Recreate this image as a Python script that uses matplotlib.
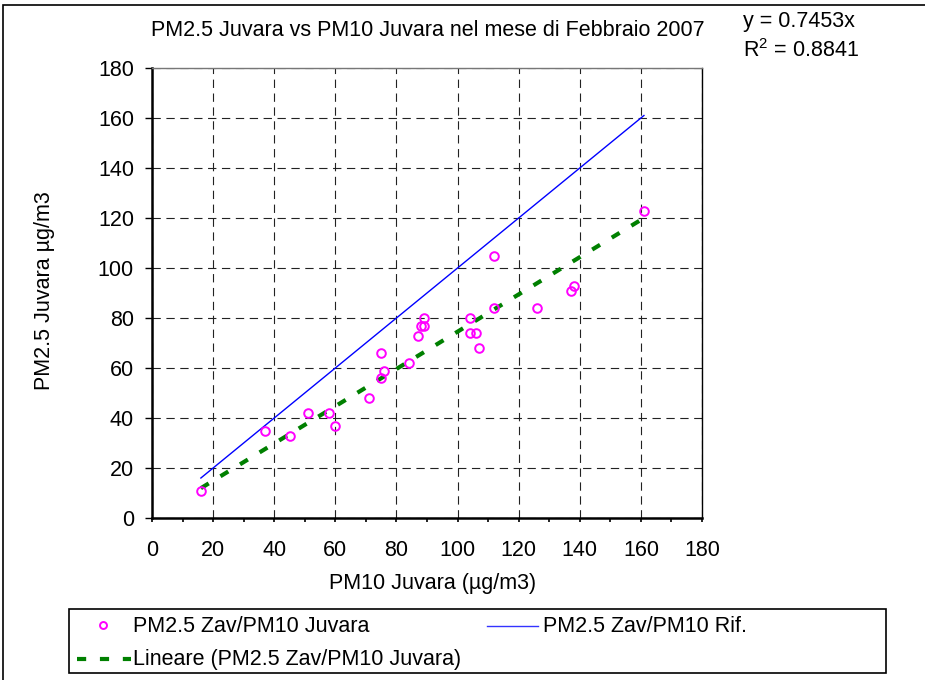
"""PM2.5 vs PM10 Juvara scatter (Febbraio 2007) with 1:1 reference and linear trend."""
import matplotlib
matplotlib.use("Agg")
import matplotlib.pyplot as plt
from matplotlib.lines import Line2D
from matplotlib.patches import Rectangle
from matplotlib.ticker import MultipleLocator

plt.rcParams["font.family"] = ["Liberation Sans", "DejaVu Sans"]
plt.rcParams["mathtext.fontset"] = "custom"
plt.rcParams["mathtext.rm"] = "Liberation Sans"

# daily pairs
pm10_juvara = [16, 37, 45, 51, 58, 60, 71, 75, 75, 76, 84, 87, 88, 89, 89,
               104, 104, 106, 107, 112, 112, 126, 137, 138, 161]
pm25_zav = [11, 35, 33, 42, 42, 37, 48, 56, 66, 59, 62, 73, 77, 80, 77,
            80, 74, 74, 68, 84, 105, 84, 91, 93, 123]
slope = 0.7453
r2 = 0.8841
line_x = [16, 161]

W, H = 925, 680
FS = 15.5          # label / legend text size
TREND_DASH = (2.2, 3.3)


def px(x, y):
    """pixel (from top-left) -> figure fraction"""
    return x / W, 1 - y / H


fig = plt.figure(figsize=(W / 100, H / 100), dpi=100)
ax = fig.add_axes([152 / W, 1 - 518 / H, 550 / W, 450 / H])

ax.plot(line_x, line_x, color="#0000FF", lw=1.0, zorder=3)
ax.plot(line_x, [slope * v for v in line_x], color="#008000", lw=3.0,
        dashes=TREND_DASH, zorder=3)
ax.plot(pm10_juvara, pm25_zav, ls="none", marker="o", ms=6.2, mfc="none",
        mec="#FF00FF", mew=1.4, zorder=4, clip_on=False)

ax.set_xlim(0, 180)
ax.set_ylim(0, 180)
ax.xaxis.set_major_locator(MultipleLocator(20))
ax.xaxis.set_minor_locator(MultipleLocator(10))
ax.yaxis.set_major_locator(MultipleLocator(20))
ax.tick_params(axis="x", which="both", direction="out", length=2.8, width=1.2,
               pad=13, labelsize=15.5)
ax.tick_params(axis="y", direction="out", length=5, width=1.0, pad=8,
               labelsize=15.5)
ax.grid(True, which="major", color="#222222", lw=0.8, dashes=(7.5, 5))
for side in ("left", "bottom"):
    ax.spines[side].set_linewidth(1.8)
ax.spines["top"].set_color("#777777")
ax.spines["top"].set_linewidth(1.0)
ax.spines["right"].set_linewidth(1.0)

fig.text(*px(428, 30), "PM2.5 Juvara vs PM10 Juvara nel mese di Febbraio 2007",
         ha="center", va="center", fontsize=FS)
fig.text(*px(743, 21), f"y = {slope:.4f}x", ha="left", va="center", fontsize=FS)
fig.text(*px(743, 51), "R$^{2}$ = " + f"{r2:.4f}", ha="left", va="center", fontsize=FS)
fig.text(*px(433, 583), "PM10 Juvara (µg/m3)", ha="center", va="center", fontsize=FS)
fig.text(*px(45, 291), "PM2.5 Juvara µg/m3", ha="center", va="center",
         rotation=90, fontsize=FS)

# outer chart border
fig.add_artist(Rectangle(px(3, 720), 1.0, (720 - 5) / H, transform=fig.transFigure,
                         fill=False, ec="black", lw=1.2))

# legend box drawn by hand to match the Excel layout
fig.add_artist(Rectangle(px(69, 673), (886 - 69) / W, (673 - 609) / H,
                         transform=fig.transFigure, fill=False, ec="black", lw=1.2))
fig.add_artist(Line2D([px(103, 0)[0]], [px(0, 625)[1]], transform=fig.transFigure,
                      ls="none", marker="o", ms=5, mfc="none", mec="#FF00FF", mew=1.4))
fig.text(*px(133, 626), "PM2.5 Zav/PM10 Juvara", ha="left", va="center", fontsize=FS)
fig.add_artist(Line2D([px(487, 0)[0], px(538, 0)[0]], [px(0, 626)[1]] * 2,
                      transform=fig.transFigure, color="#3333FF", lw=1.0))
fig.text(*px(543, 626), "PM2.5 Zav/PM10 Rif.", ha="left", va="center", fontsize=FS)
fig.add_artist(Line2D([px(77, 0)[0], px(131, 0)[0]], [px(0, 659)[1]] * 2,
                      transform=fig.transFigure, color="#008000", lw=3.0,
                      dashes=TREND_DASH))
fig.text(*px(133, 659), "Lineare (PM2.5 Zav/PM10 Juvara)", ha="left", va="center",
         fontsize=FS)

fig.savefig("out.png", dpi=100)
